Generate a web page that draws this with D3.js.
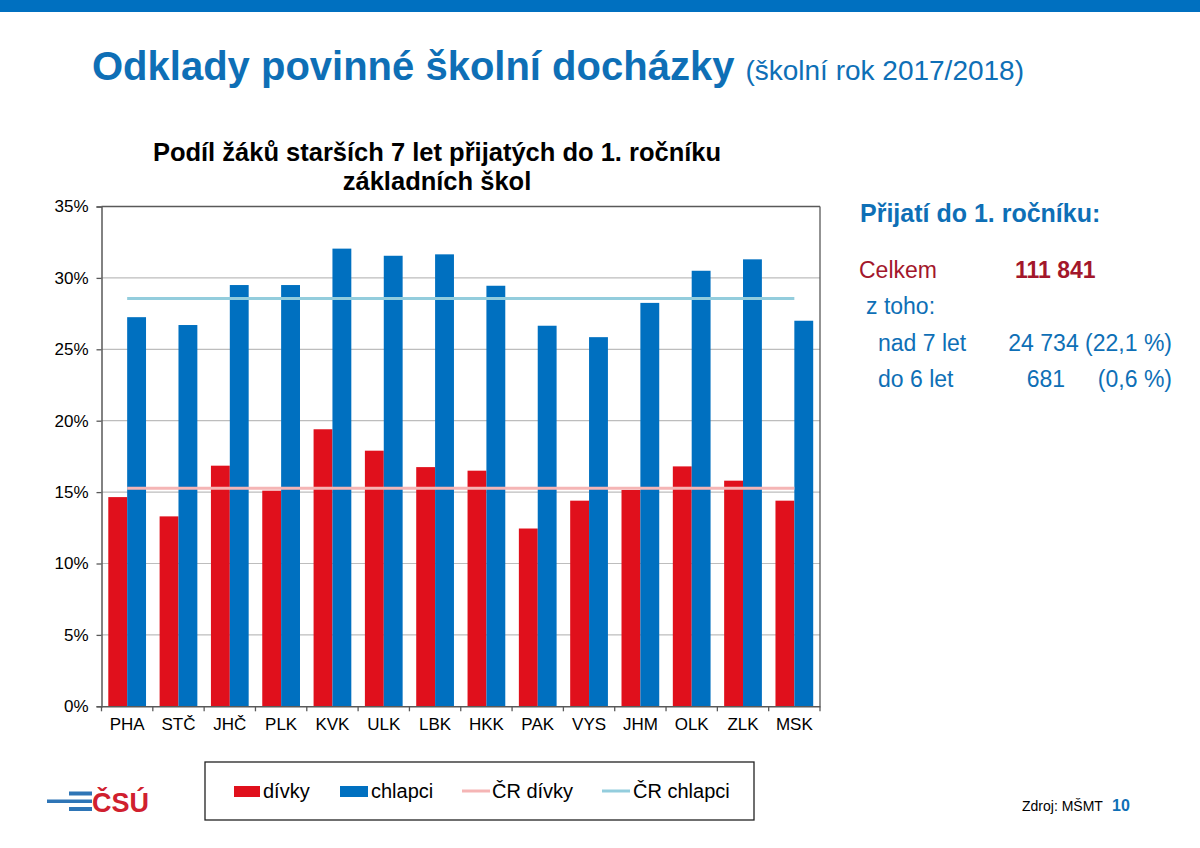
<!DOCTYPE html>
<html><head><meta charset="utf-8">
<script src="https://cdn.jsdelivr.net/npm/d3@7"></script>
<style>
html,body{margin:0;padding:0;background:#fff;}
svg{display:block;font-family:Arial,"Liberation Sans",sans-serif;}
</style></head>
<body>
<svg id="c" width="1200" height="848"></svg>
<script>
const categories = ["PHA","STČ","JHČ","PLK","KVK","ULK","LBK","HKK","PAK","VYS","JHM","OLK","ZLK","MSK"];
const divky   = [14.65,13.3,16.85,15.1,19.4,17.9,16.75,16.5,12.45,14.4,15.15,16.8,15.8,14.4];
const chlapci = [27.25,26.7,29.5,29.5,32.05,31.55,31.65,29.45,26.65,25.85,28.25,30.5,31.3,27.0];
const crDivky = 15.27;
const crChlapci = 28.56;
const yTicks = [0,5,10,15,20,25,30,35];
const seriesNames = ["dívky","chlapci","ČR dívky","ČR chlapci"];

const RED="#E0101C", BLUE="#0070C0", PINK="#F5B5B5", LBLUE="#93CDDD", TBLUE="#0E6FB6";
const FONT="Arial,'Liberation Sans',sans-serif";
const svg = d3.select("#c");

// top band
svg.append("rect").attr("x",0).attr("y",0).attr("width",1200).attr("height",12).attr("fill","#0070C0");

// title
const t = svg.append("text").attr("x",92).attr("y",80).attr("fill",TBLUE);
t.append("tspan").attr("font-size",40).attr("font-weight","bold").text("Odklady povinné školní docházky");
t.append("tspan").attr("font-size",28).attr("dx",11).text("(školní rok 2017/2018)");

// chart title
svg.append("text").attr("x",437).attr("y",161).attr("text-anchor","middle").attr("font-size",25.5).attr("font-weight","bold").attr("fill","#000").text("Podíl žáků starších 7 let přijatých do 1. ročníku");
svg.append("text").attr("x",437).attr("y",190).attr("text-anchor","middle").attr("font-size",25.5).attr("font-weight","bold").attr("fill","#000").text("základních škol");

// plot
const L=101.5, R=820, T=206.5, B=706.3;
const x = d3.scaleBand().domain(categories).range([L,R]).paddingInner(0).paddingOuter(0);
const xi = d3.scaleBand().domain(["d","c"]).range([0,x.bandwidth()]).paddingOuter(0.36).paddingInner(0);
const y = d3.scaleLinear().domain([0,35]).range([B,T]);

// gridlines
svg.append("g").selectAll("line").data(yTicks.filter(v=>v>0&&v<35)).join("line")
  .attr("x1",L).attr("x2",R).attr("y1",d=>y(d)).attr("y2",d=>y(d))
  .attr("stroke","#BDBDBD").attr("stroke-width",1.2);

// bars
const g = svg.append("g");
g.selectAll("rect.d").data(categories).join("rect").attr("class","d")
  .attr("x",d=>x(d)+xi("d")).attr("width",xi.bandwidth())
  .attr("y",(d,i)=>y(divky[i])).attr("height",(d,i)=>B-y(divky[i])).attr("fill",RED);
g.selectAll("rect.c").data(categories).join("rect").attr("class","c")
  .attr("x",d=>x(d)+xi("c")).attr("width",xi.bandwidth())
  .attr("y",(d,i)=>y(chlapci[i])).attr("height",(d,i)=>B-y(chlapci[i])).attr("fill",BLUE);

// reference lines
const xc = d=>x(d)+x.bandwidth()/2;
const line = d3.line().x(d=>d[0]).y(d=>d[1]);
svg.append("path").attr("d",line(categories.map(c=>[xc(c),y(crDivky)]))).attr("stroke",PINK).attr("stroke-width",3).attr("fill","none");
svg.append("path").attr("d",line(categories.map(c=>[xc(c),y(crChlapci)]))).attr("stroke",LBLUE).attr("stroke-width",3).attr("fill","none");

// frame
svg.append("line").attr("x1",L).attr("x2",R).attr("y1",T).attr("y2",T).attr("stroke","#595959").attr("stroke-width",1.3);
svg.append("line").attr("x1",R).attr("x2",R).attr("y1",T).attr("y2",B).attr("stroke","#595959").attr("stroke-width",1.3);

// y axis
const ya = svg.append("g").attr("transform",`translate(${L},0)`)
  .call(d3.axisLeft(y).tickValues(yTicks).tickFormat(d=>d+"%").tickSize(5).tickPadding(8));
ya.select(".domain").attr("stroke","#595959").attr("stroke-width",1.5);
ya.selectAll(".tick line").attr("stroke","#595959").attr("stroke-width",1.3);
ya.selectAll("text").attr("font-size",17).attr("fill","#000").attr("font-family",FONT);

// x axis
const xa = svg.append("g").attr("transform",`translate(0,${B})`)
  .call(d3.axisBottom(x).tickSize(0).tickPadding(12));
xa.select(".domain").attr("stroke","#595959").attr("stroke-width",1.5);
xa.selectAll("text").attr("font-size",17).attr("fill","#000").attr("font-family",FONT);
const bounds = categories.map(c=>x(c)).concat([R]);
xa.selectAll("line.b").data(bounds).join("line").attr("class","b")
  .attr("x1",d=>d).attr("x2",d=>d).attr("y1",0).attr("y2",5).attr("stroke","#595959").attr("stroke-width",1.3);

// legend
svg.append("rect").attr("x",205).attr("y",762).attr("width",549).attr("height",58).attr("fill","#fff").attr("stroke","#222").attr("stroke-width",1.3);
const leg = [
  {n:seriesNames[0], type:"rect", c:RED, x:234, w:26, tx:263},
  {n:seriesNames[1], type:"rect", c:BLUE, x:340, w:28, tx:371},
  {n:seriesNames[2], type:"line", c:PINK, x:462, w:28, tx:492},
  {n:seriesNames[3], type:"line", c:LBLUE, x:602, w:28, tx:633}
];
const lg = svg.append("g").selectAll("g").data(leg).join("g");
lg.filter(d=>d.type==="rect").append("rect").attr("x",d=>d.x).attr("y",786).attr("width",d=>d.w).attr("height",11).attr("fill",d=>d.c);
lg.filter(d=>d.type==="line").append("line").attr("x1",d=>d.x).attr("x2",d=>d.x+d.w).attr("y1",791).attr("y2",791).attr("stroke",d=>d.c).attr("stroke-width",3);
lg.append("text").attr("x",d=>d.tx).attr("y",798).attr("font-size",20).attr("fill","#000").text(d=>d.n);

// right panel
const rp = svg.append("g");
rp.append("text").attr("x",860).attr("y",222).attr("font-size",25).attr("font-weight","bold").attr("fill",TBLUE).text("Přijatí do 1. ročníku:");
rp.append("text").attr("x",859).attr("y",278).attr("font-size",23).attr("fill","#A3172B").text("Celkem");
rp.append("text").attr("x",1015).attr("y",278).attr("font-size",23).attr("font-weight","bold").attr("fill","#A3172B").text("111 841");
rp.append("text").attr("x",866).attr("y",314).attr("font-size",23).attr("fill",TBLUE).text("z toho:");
rp.append("text").attr("x",878).attr("y",351).attr("font-size",23).attr("fill",TBLUE).text("nad 7 let");
rp.append("text").attr("x",1172).attr("y",351).attr("text-anchor","end").attr("font-size",23).attr("fill",TBLUE).text("24 734 (22,1 %)");
rp.append("text").attr("x",878).attr("y",387).attr("font-size",23).attr("fill",TBLUE).text("do 6 let");
rp.append("text").attr("x",1065).attr("y",387).attr("text-anchor","end").attr("font-size",23).attr("fill",TBLUE).text("681");
rp.append("text").attr("x",1172).attr("y",387).attr("text-anchor","end").attr("font-size",23).attr("fill",TBLUE).text("(0,6 %)");

// logo
const lo = svg.append("g");
lo.append("rect").attr("x",47).attr("y",799.5).attr("width",45).attr("height",3.5).attr("fill","#2E75B6");
lo.append("rect").attr("x",69).attr("y",791.5).attr("width",23).attr("height",4).attr("fill","#2E75B6");
lo.append("rect").attr("x",69).attr("y",807).attr("width",23).attr("height",4).attr("fill","#2E75B6");
lo.append("text").attr("x",92).attr("y",812).attr("font-size",27).attr("font-weight","bold").attr("fill","#D0202E").attr("font-family","'Liberation Sans Narrow',Arial,sans-serif").text("ČSÚ");

// footer
svg.append("text").attr("x",1022).attr("y",811).attr("font-size",14).attr("fill","#000").text("Zdroj: MŠMT");
svg.append("text").attr("x",1112).attr("y",811).attr("font-size",16).attr("font-weight","bold").attr("fill",TBLUE).text("10");
</script>
</body></html>
